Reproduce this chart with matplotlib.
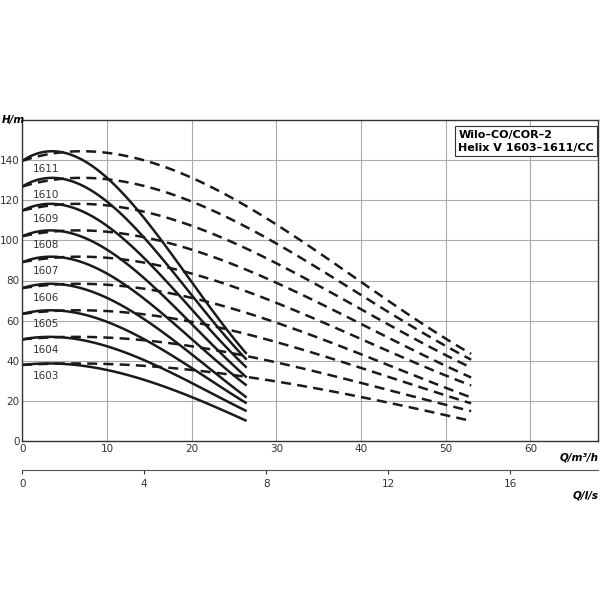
import numpy as np
import matplotlib
matplotlib.use('Agg')
import matplotlib.pyplot as plt

# Single-pump curves (Q in m3/h, H in m)
Q_POINTS = [0, 2, 4, 6, 10, 15, 20, 26.5]
STAGES = ['1603', '1604', '1605', '1606', '1607', '1608', '1609', '1610', '1611']
H_1603 = [38, 38.4, 38.5, 38.2, 35.5, 29.5, 22, 10]
H_1604 = [51, 51.4, 51.5, 51.1, 47.5, 39.5, 28.5, 15]
H_1605 = [64, 64.4, 64.5, 64.0, 60, 50, 35.5, 19]
H_1606 = [77, 77.4, 77.5, 77.0, 72, 60, 42, 22]
H_1607 = [90, 90.7, 91, 90.4, 84, 70, 49.5, 28]
H_1608 = [103, 103.7, 104, 103.3, 96, 80, 57, 32]
H_1609 = [116, 116.7, 117, 116.3, 108, 90, 64, 37]
H_1610 = [128, 129.4, 130, 129.3, 120, 100, 71, 41]
H_1611 = [141, 142.5, 143, 142.2, 132, 110, 77, 44]
HEADS = [H_1603, H_1604, H_1605, H_1606, H_1607, H_1608, H_1609, H_1610, H_1611]
N_PUMPS = 2

fig = plt.figure(figsize=(6, 6), dpi=100)
ax = fig.add_axes([0.037, 0.265, 0.96, 0.535])

q = np.array(Q_POINTS)
for name, h in zip(STAGES, HEADS):
    coef = np.polyfit(q, h, 3)
    qq = np.linspace(0, q[-1], 100)
    hh = np.polyval(coef, qq)
    ax.plot(qq, hh, color='#1a1a1a', linewidth=1.8, solid_capstyle='butt')
    ax.plot(qq * N_PUMPS, hh, color='#1a1a1a', linewidth=1.8,
            linestyle=(0, (4, 2.5)))
    ax.text(1.3, h[0] - 3, name, fontsize=7.5, color='#333333', va='top',
            ha='left')

ax.set_xlim(0, 68)
ax.set_ylim(0, 160)
ax.set_xticks(range(0, 61, 10))
ax.set_yticks(range(0, 141, 20))
ax.tick_params(length=0, labelsize=7.5, colors='#333333', pad=2)
ax.grid(True, color='#aaaaaa', linewidth=0.8)
for s in ax.spines.values():
    s.set_color('#333333')
    s.set_linewidth(1.0)

ax.text(-0.035, 1.0, 'H/m', transform=ax.transAxes, fontsize=7.5,
        fontweight='bold', style='italic', ha='left', va='center')
ax.text(1.0, -0.05, 'Q/m³/h', transform=ax.transAxes, fontsize=7.5,
        fontweight='bold', style='italic', ha='right', va='center')

sec = ax.secondary_xaxis(-0.09, functions=(lambda x: x / 3.6, lambda x: x * 3.6))
sec.set_xticks(range(0, 17, 4))
sec.tick_params(labelsize=7.5, colors='#333333', length=3, direction='out')
sec.spines['bottom'].set_color('#555555')
ax.text(1.0, -0.17, 'Q/l/s', transform=ax.transAxes, fontsize=7.5,
        fontweight='bold', style='italic', ha='right', va='center')

ax.text(0.757, 0.97, 'Wilo–CO/COR–2\nHelix V 1603–1611/CC', transform=ax.transAxes,
        fontsize=8, fontweight='bold', ha='left', va='top', linespacing=1.4,
        bbox=dict(boxstyle='square,pad=0.3', facecolor='white',
                  edgecolor='#333333', linewidth=0.8))

fig.savefig('out.png')
